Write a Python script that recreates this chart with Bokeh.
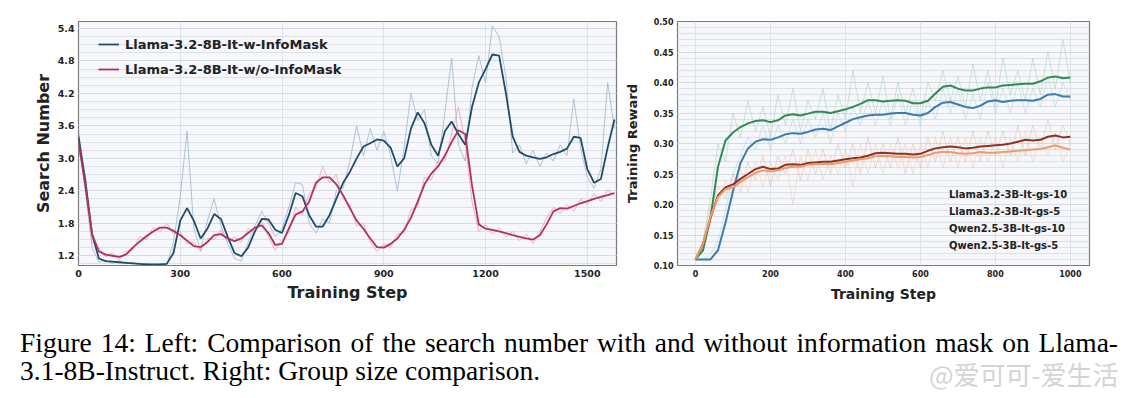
from bokeh.plotting import figure
from bokeh.models import (FixedTicker, PrintfTickFormatter, Legend, LegendItem,
                          Div, Range1d)
from bokeh.layouts import row, column
from bokeh.embed import file_html
from bokeh.resources import INLINE
import numpy as np

# ---------------- Left chart data ----------------
left_steps = list(range(0, 1600, 20))
w_mask_smooth = [3.40, 2.60, 1.60, 1.15, 1.10, 1.09, 1.08, 1.07, 1.06, 1.05,
                 1.04, 1.04, 1.04, 1.05, 1.25, 1.85, 2.08, 1.85, 1.52, 1.70,
                 1.97, 1.88, 1.55, 1.25, 1.19, 1.35, 1.65, 1.88, 1.87, 1.68,
                 1.62, 1.95, 2.36, 2.30, 1.95, 1.74, 1.74, 1.95, 2.25, 2.55,
                 2.75, 3.00, 3.22, 3.28, 3.35, 3.33, 3.20, 2.85, 3.00, 3.55,
                 3.85, 3.65, 3.25, 3.05, 3.50, 3.68, 3.45, 3.25, 3.95, 4.40,
                 4.65, 4.92, 4.90, 4.20, 3.40, 3.12, 3.05, 3.02, 2.99, 3.02,
                 3.08, 3.12, 3.18, 3.40, 3.38, 2.80, 2.55, 2.62, 3.20, 3.72]
wo_mask_smooth = [3.30, 2.50, 1.60, 1.28, 1.22, 1.20, 1.18, 1.22, 1.35, 1.46,
                  1.56, 1.65, 1.72, 1.72, 1.66, 1.58, 1.48, 1.38, 1.36, 1.45,
                  1.58, 1.60, 1.52, 1.47, 1.52, 1.62, 1.72, 1.76, 1.62, 1.40,
                  1.42, 1.70, 1.96, 2.02, 2.20, 2.55, 2.65, 2.65, 2.52, 2.32,
                  2.08, 1.85, 1.70, 1.52, 1.36, 1.35, 1.42, 1.52, 1.68, 1.90,
                  2.20, 2.52, 2.72, 2.85, 3.05, 3.30, 3.52, 3.45, 2.50, 1.78,
                  1.70, 1.68, 1.65, 1.62, 1.58, 1.55, 1.52, 1.50, 1.58, 1.78,
                  2.02, 2.08, 2.07, 2.12, 2.17, 2.21, 2.25, 2.29, 2.32, 2.36]
w_mask_raw = [3.55, 2.40, 1.35, 1.08, 1.12, 1.06, 1.10, 1.05, 1.08, 1.03,
              1.06, 1.02, 1.05, 1.03, 1.45, 2.30, 3.50, 1.70, 1.30, 1.85,
              2.25, 1.75, 1.42, 1.15, 1.10, 1.45, 1.75, 2.02, 1.80, 1.55,
              1.70, 2.10, 2.55, 2.52, 1.80, 1.62, 1.88, 1.80, 2.40, 2.45,
              2.95, 3.60, 3.05, 3.55, 3.15, 3.50, 3.05, 2.40, 3.20, 4.20,
              3.70, 3.90, 3.05, 2.90, 3.85, 4.85, 3.25, 2.95, 4.30, 4.90,
              4.40, 5.45, 5.25, 4.50, 3.10, 3.25, 2.90, 3.15, 2.85, 3.10,
              2.95, 3.25, 3.05, 4.10, 3.20, 2.65, 2.45, 2.80, 4.40, 3.55]
wo_mask_raw = [3.20, 2.65, 1.45, 1.35, 1.18, 1.25, 1.12, 1.28, 1.30, 1.55,
               1.50, 1.72, 1.65, 1.80, 1.60, 1.65, 1.42, 1.45, 1.28, 1.52,
               1.50, 1.68, 1.45, 1.55, 1.45, 1.70, 1.65, 1.85, 1.55, 1.30,
               1.50, 1.62, 2.10, 1.95, 2.35, 2.45, 2.85, 2.55, 2.70, 2.25,
               2.15, 1.75, 1.80, 1.45, 1.28, 1.42, 1.35, 1.60, 1.62, 2.05,
               2.10, 2.65, 2.60, 2.95, 2.95, 3.45, 3.95, 3.30, 2.20, 1.65,
               1.78, 1.60, 1.72, 1.55, 1.65, 1.48, 1.60, 1.42, 1.65, 1.90,
               2.10, 1.98, 2.15, 2.02, 2.25, 2.15, 2.35, 2.20, 2.42, 2.30]
left_x_ticks = [0, 300, 600, 900, 1200, 1500]
left_y_ticks = [1.2, 1.8, 2.4, 3.0, 3.6, 4.2, 4.8, 5.4]

# ---------------- Right chart data ----------------
right_steps = list(range(0, 1001, 20))
llama_gs10 = [0.110, 0.125, 0.178, 0.262, 0.305, 0.318, 0.327, 0.333, 0.337, 0.338,
              0.335, 0.338, 0.346, 0.348, 0.346, 0.349, 0.352, 0.352, 0.350, 0.353,
              0.356, 0.360, 0.365, 0.371, 0.371, 0.369, 0.370, 0.371, 0.370, 0.366,
              0.366, 0.370, 0.382, 0.393, 0.395, 0.390, 0.387, 0.387, 0.390, 0.392,
              0.392, 0.395, 0.396, 0.397, 0.398, 0.398, 0.402, 0.408, 0.410, 0.407, 0.408]
llama_gs5 = [0.110, 0.110, 0.110, 0.125, 0.170, 0.222, 0.268, 0.292, 0.303, 0.307,
             0.306, 0.310, 0.315, 0.317, 0.316, 0.319, 0.323, 0.324, 0.322, 0.328,
             0.334, 0.340, 0.343, 0.346, 0.347, 0.347, 0.349, 0.350, 0.350, 0.347,
             0.346, 0.350, 0.360, 0.367, 0.368, 0.364, 0.360, 0.358, 0.362, 0.369,
             0.371, 0.368, 0.370, 0.371, 0.371, 0.370, 0.373, 0.380, 0.381, 0.377, 0.377]
qwen_gs10 = [0.110, 0.135, 0.178, 0.215, 0.228, 0.233, 0.242, 0.250, 0.258, 0.262,
             0.258, 0.259, 0.265, 0.266, 0.265, 0.268, 0.269, 0.270, 0.270, 0.272,
             0.274, 0.276, 0.277, 0.280, 0.284, 0.285, 0.284, 0.283, 0.283, 0.282,
             0.283, 0.288, 0.292, 0.294, 0.295, 0.294, 0.292, 0.293, 0.295, 0.296,
             0.297, 0.298, 0.300, 0.303, 0.306, 0.305, 0.306, 0.311, 0.313, 0.310, 0.311]
qwen_gs5 = [0.110, 0.135, 0.180, 0.212, 0.225, 0.228, 0.237, 0.245, 0.252, 0.256,
            0.254, 0.256, 0.260, 0.262, 0.262, 0.265, 0.266, 0.267, 0.266, 0.268,
            0.270, 0.272, 0.274, 0.276, 0.279, 0.280, 0.279, 0.278, 0.278, 0.277,
            0.278, 0.281, 0.285, 0.286, 0.286, 0.284, 0.283, 0.284, 0.286, 0.285,
            0.285, 0.286, 0.287, 0.288, 0.289, 0.290, 0.291, 0.294, 0.297, 0.293, 0.290]
llama_gs10_raw = [0.11, 0.14, 0.21, 0.30, 0.27, 0.35, 0.31, 0.37, 0.32, 0.36,
                  0.31, 0.38, 0.33, 0.39, 0.32, 0.37, 0.34, 0.39, 0.32, 0.38,
                  0.34, 0.42, 0.35, 0.40, 0.35, 0.41, 0.34, 0.40, 0.35, 0.39,
                  0.34, 0.40, 0.37, 0.42, 0.37, 0.41, 0.36, 0.43, 0.37, 0.42,
                  0.36, 0.44, 0.38, 0.42, 0.37, 0.44, 0.38, 0.45, 0.39, 0.47, 0.40]
llama_gs5_raw = [0.11, 0.11, 0.12, 0.14, 0.19, 0.25, 0.28, 0.31, 0.29, 0.33,
                 0.29, 0.33, 0.30, 0.34, 0.30, 0.34, 0.31, 0.35, 0.30, 0.35,
                 0.32, 0.36, 0.33, 0.37, 0.33, 0.37, 0.33, 0.38, 0.33, 0.37,
                 0.33, 0.37, 0.34, 0.39, 0.35, 0.39, 0.34, 0.38, 0.34, 0.40,
                 0.35, 0.39, 0.35, 0.40, 0.35, 0.39, 0.36, 0.41, 0.36, 0.40, 0.37]
qwen_gs10_raw = [0.11, 0.14, 0.19, 0.23, 0.21, 0.25, 0.22, 0.27, 0.24, 0.28,
                 0.23, 0.28, 0.25, 0.29, 0.24, 0.29, 0.25, 0.29, 0.25, 0.30,
                 0.26, 0.30, 0.25, 0.31, 0.26, 0.30, 0.26, 0.31, 0.25, 0.30,
                 0.26, 0.31, 0.27, 0.32, 0.27, 0.31, 0.27, 0.32, 0.27, 0.32,
                 0.28, 0.32, 0.28, 0.33, 0.28, 0.33, 0.29, 0.34, 0.29, 0.33, 0.30]
qwen_gs5_raw = [0.11, 0.13, 0.20, 0.20, 0.24, 0.21, 0.26, 0.22, 0.27, 0.23,
                0.27, 0.24, 0.28, 0.20, 0.28, 0.24, 0.29, 0.24, 0.28, 0.25,
                0.29, 0.23, 0.30, 0.25, 0.30, 0.25, 0.30, 0.26, 0.30, 0.25,
                0.30, 0.26, 0.31, 0.26, 0.31, 0.26, 0.31, 0.26, 0.31, 0.27,
                0.31, 0.26, 0.31, 0.27, 0.32, 0.27, 0.31, 0.28, 0.32, 0.27, 0.30]
right_x_ticks = [0, 200, 400, 600, 800, 1000]
right_y_ticks = [0.10, 0.15, 0.20, 0.25, 0.30, 0.35, 0.40, 0.45, 0.50]

left_labels = ["Llama-3.2-8B-It-w-InfoMask", "Llama-3.2-8B-It-w/o-InfoMask"]
right_labels = ["Llama3.2-3B-It-gs-10", "Llama3.2-3B-It-gs-5",
                "Qwen2.5-3B-It-gs-10", "Qwen2.5-3B-It-gs-5"]

FONT = "DejaVu Sans"
BG = "#f5f7fa"


def style(p, xticks, yticks, minor_y, fmt, tick_size, label_size):
    p.background_fill_color = BG
    p.border_fill_color = "white"
    p.outline_line_color = "#7a7a7a"
    p.outline_line_width = 1.2
    p.xaxis.ticker = FixedTicker(ticks=xticks)
    p.yaxis.ticker = FixedTicker(ticks=yticks, minor_ticks=minor_y)
    p.yaxis.formatter = PrintfTickFormatter(format=fmt)
    for ax in (p.xaxis[0], p.yaxis[0]):
        ax.axis_line_color = None
        ax.major_tick_line_color = None
        ax.minor_tick_line_color = None
        ax.major_tick_out = 0
        ax.major_tick_in = 0
        ax.minor_tick_out = 0
        ax.minor_tick_in = 0
        ax.major_label_text_font = FONT
        ax.major_label_text_font_style = "bold"
        ax.major_label_text_font_size = tick_size
        ax.major_label_text_color = "#222222"
        ax.axis_label_text_font = FONT
        ax.axis_label_text_font_style = "bold"
        ax.axis_label_text_font_size = label_size
        ax.axis_label_text_color = "#222222"
        ax.major_label_standoff = 4
    p.xgrid.grid_line_color = "#dfe3e8"
    p.xgrid.grid_line_width = 1
    p.ygrid.grid_line_color = "#d6dbe1"
    p.ygrid.grid_line_width = 1
    p.ygrid.minor_grid_line_color = "#dde1e6"
    p.ygrid.minor_grid_line_width = 1


# ---------------- Left figure ----------------
p1 = figure(width=620, height=305, output_backend="svg", toolbar_location=None,
            x_range=Range1d(0, 1586), y_range=Range1d(1.02, 5.53),
            min_border_left=78, min_border_right=4, min_border_top=21,
            min_border_bottom=37)
minor_left = [round(v, 2) for v in np.arange(1.05, 5.56, 0.15)]
style(p1, left_x_ticks, left_y_ticks, minor_left, "%.1f", "9.5px", "16px")
p1.xaxis.axis_label = "Training Step"
p1.yaxis.axis_label = "Search Number"
p1.xaxis.axis_label_standoff = 3
p1.yaxis.axis_label_standoff = 2

p1.line(left_steps, w_mask_raw, line_color="#9db6c9", line_width=1, line_alpha=0.8)
p1.line(left_steps, wo_mask_raw, line_color="#f0a3bf", line_width=1, line_alpha=0.85)
r_w = p1.line(left_steps, w_mask_smooth, line_color="#1f4d6b", line_width=1.8)
r_wo = p1.line(left_steps, wo_mask_smooth, line_color="#b2325f", line_width=1.8)

leg1 = Legend(items=[LegendItem(label=left_labels[0], renderers=[r_w]),
                     LegendItem(label=left_labels[1], renderers=[r_wo])],
              location=(20, 186), margin=0, padding=0, spacing=5,
              label_height=20, glyph_height=20, glyph_width=21, label_standoff=6,
              label_text_font=FONT, label_text_font_style="bold",
              label_text_font_size="13px", label_text_color="#222222",
              background_fill_alpha=0, border_line_color=None)
p1.add_layout(leg1, "center")

# ---------------- Right figure ----------------
p2 = figure(width=501, height=305, output_backend="svg", toolbar_location=None,
            x_range=Range1d(-48, 1051), y_range=Range1d(0.10, 0.50),
            min_border_left=57, min_border_right=32, min_border_top=17,
            min_border_bottom=40)
minor_right = [round(v, 3) for v in np.arange(0.10, 0.501, 0.01)]
style(p2, right_x_ticks, right_y_ticks, minor_right, "%.2f", "8px", "13px")
p2.xaxis.axis_label = "Training Step"
p2.yaxis.axis_label = "Training Reward"
p2.xaxis.axis_label_text_font_size = "14px"
p2.xaxis.axis_label_standoff = 6
p2.yaxis.axis_label_standoff = 11

p2.line(right_steps, llama_gs10_raw, line_color="#7cc08f", line_width=1, line_alpha=0.35)
p2.line(right_steps, llama_gs5_raw, line_color="#8dbde0", line_width=1, line_alpha=0.35)
p2.line(right_steps, qwen_gs10_raw, line_color="#d98b78", line_width=1, line_alpha=0.3)
p2.line(right_steps, qwen_gs5_raw, line_color="#f4b48c", line_width=1, line_alpha=0.35)

colors_r = ["#2e8b57", "#3a7cab", "#8e3324", "#ef9a6a"]
series_r = [llama_gs10, llama_gs5, qwen_gs10, qwen_gs5]
for ys, c in zip(series_r, colors_r):
    p2.line(right_steps, ys, line_color=c, line_width=2)

legend_widths = [1, 3, 3, 1]
legend_colors = ["#2e8b57", "#3f93a6", "#8e3324", "#ef9a6a"]
items = []
for lab, c, w in zip(right_labels, legend_colors, legend_widths):
    rr = p2.line(x=[], y=[], line_color=c, line_width=w)
    items.append(LegendItem(label=lab, renderers=[rr]))
leg2 = Legend(items=items, location=(252, 12), margin=0, padding=0, spacing=1,
              label_height=16, glyph_height=16, glyph_width=17, label_standoff=3,
              label_text_font=FONT, label_text_font_style="bold",
              label_text_font_size="10px", label_text_color="#222222",
              background_fill_alpha=0, border_line_color=None)
p2.add_layout(leg2, "center")

# ---------------- Caption ----------------
caption_html = """
<div style="position:relative;width:1121px;height:90px;font-family:'Liberation Serif',serif;font-size:27.5px;line-height:28px;color:#000;">
 <div style="position:absolute;left:15px;top:19px;width:1098px;text-align:justify;text-align-last:justify;">Figure 14: Left: Comparison of the search number with and without information mask on Llama-</div>
 <div style="position:absolute;left:15px;top:47px;white-space:nowrap;">3.1-8B-Instruct. Right: Group size comparison.</div>
 <div style="position:absolute;left:924px;top:50px;white-space:nowrap;font-family:'Noto Sans CJK SC';font-size:26px;line-height:28px;color:#d4d4d4;">@爱可可-爱生活</div>
</div>
"""
cap = Div(text=caption_html, width=1121, height=90)

layout = column(row(p1, p2), cap)
open("out.html", "w").write(file_html(layout, INLINE))
